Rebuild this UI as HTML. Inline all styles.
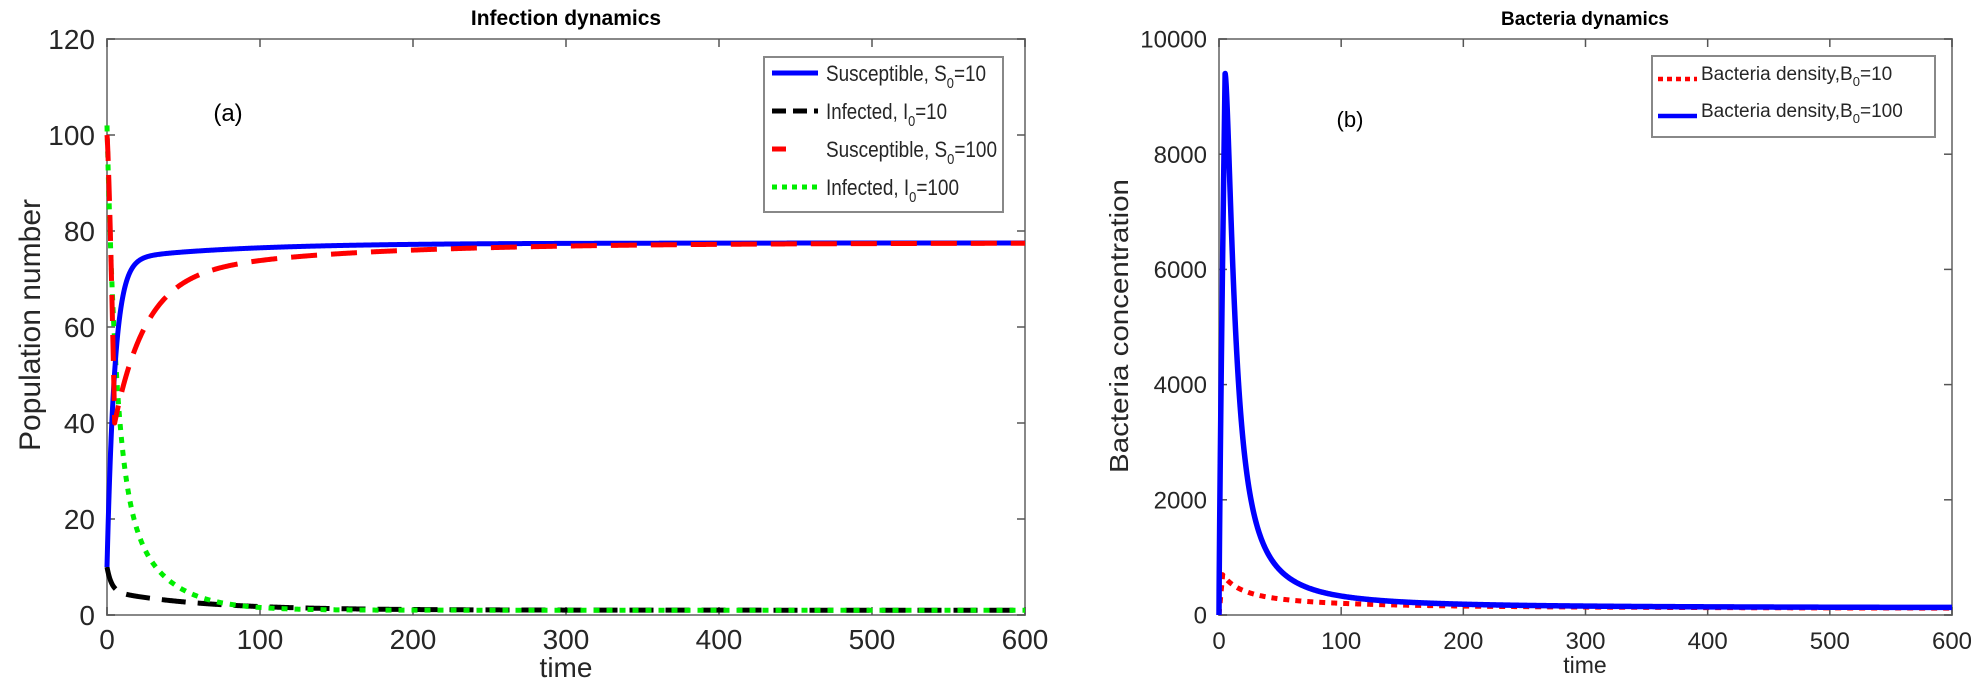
<!DOCTYPE html>
<html><head><meta charset="utf-8"><style>
html,body{margin:0;padding:0;background:#fff;width:1974px;height:692px;overflow:hidden}
text{font-family:"Liberation Sans",Arial,sans-serif}
</style></head><body>
<svg id="s" width="1974" height="692" xmlns="http://www.w3.org/2000/svg"></svg>
<script>
const svg=document.getElementById('s');
let h='';
function add(x){h+=x;}
const L={x0:107,x1:1025,y0:615,y1:39,ymax:120,xmax:600};
const R={x0:1219,x1:1952,y0:615,y1:39,ymax:10000,xmax:600};
function X(A,t){return A.x0+t/A.xmax*(A.x1-A.x0);}
function Y(A,v){return A.y0-v/A.ymax*(A.y0-A.y1);}
function axes(A,yt,fs,fsx){
  add(`<rect x="${A.x0}" y="${A.y1}" width="${A.x1-A.x0}" height="${A.y0-A.y1}" fill="none" stroke="#888" stroke-width="2"/>`);
  for(let t=0;t<=600;t+=100){const x=X(A,t);
    add(`<line x1="${x}" y1="${A.y0}" x2="${x}" y2="${A.y0-8}" stroke="#555" stroke-width="1.5"/><line x1="${x}" y1="${A.y1}" x2="${x}" y2="${A.y1+8}" stroke="#555" stroke-width="1.5"/>`);
    add(`<text x="${x}" y="${A.y0+34}" font-size="${fsx}" text-anchor="middle" fill="#262626">${t}</text>`);}
  for(const v of yt){const y=Y(A,v);
    add(`<line x1="${A.x0}" y1="${y}" x2="${A.x0+8}" y2="${y}" stroke="#555" stroke-width="1.5"/><line x1="${A.x1}" y1="${y}" x2="${A.x1-8}" y2="${y}" stroke="#555" stroke-width="1.5"/>`);
    add(`<text x="${A.x0-12}" y="${y+fs*0.36}" font-size="${fs}" text-anchor="end" fill="#262626">${v}</text>`);}
}
function path(A,f,col,w,dash){
  let d='';
  for(let i=0;i<=1200;i++){const t=i<200?i*0.1:20+(i-200)*0.58;
    d+=(i?'L':'M')+X(A,t).toFixed(2)+' '+Y(A,f(t)).toFixed(2);}
  add(`<path d="${d}" fill="none" stroke="${col}" stroke-width="${w}" ${dash?`stroke-dasharray="${dash}"`:''} stroke-linejoin="round"/>`);
}
axes(L,[0,20,40,60,80,100,120],28,28);
axes(R,[0,2000,4000,6000,8000,10000],24,24);
path(L,t=>1+5*Math.exp(-t/3)+4*Math.exp(-t/60),'#000',5,'24 12');
path(L,t=>1+70*Math.exp(-t/6)+31*Math.exp(-t/25),'#00ee00',5,'6 7');
path(L,t=>10+64*(1-Math.exp(-t/5))+3.5*(1-Math.exp(-t/80)),'#0000ff',5,null);
path(L,t=>t<5?100-60*Math.pow(t/5,1.3):77.5-30*Math.exp(-(t-5)/20)-7.5*Math.exp(-(t-5)/120),'#ff0000',5,'26 14');
path(R,t=>t<3?700*t/3:100+600/(1+(t-3)/20),'#ff0000',5,'6 6');
path(R,t=>t<5?9400*Math.pow(t/5,0.8):120+9280/(1+Math.pow((t-5)/9,1.6)),'#0000ff',5.5,null);
add(`<text x="566" y="25" font-size="21" font-weight="bold" text-anchor="middle">Infection dynamics</text>`);
add(`<text x="1585" y="25" font-size="19" font-weight="bold" text-anchor="middle">Bacteria dynamics</text>`);
add(`<text x="566" y="677" font-size="28" text-anchor="middle" fill="#262626">time</text>`);
add(`<text x="1585" y="673" font-size="23" text-anchor="middle" fill="#262626">time</text>`);
add(`<text transform="translate(40,325) rotate(-90)" font-size="30" text-anchor="middle" textLength="252" lengthAdjust="spacingAndGlyphs" fill="#262626">Population number</text>`);
add(`<text transform="translate(1128,326) rotate(-90)" font-size="26" text-anchor="middle" textLength="294" lengthAdjust="spacingAndGlyphs" fill="#262626">Bacteria concentration</text>`);
add(`<text x="228" y="121" font-size="24" text-anchor="middle">(a)</text>`);
add(`<text x="1350" y="127" font-size="22" text-anchor="middle">(b)</text>`);
add(`<rect x="764" y="57" width="239" height="155" fill="#fff" stroke="#888" stroke-width="2"/>`);
const le=[['#0000ff',null,'Susceptible, S','10',160],['#000','14 7','Infected, I','10',121],['#ff0000','14 40','Susceptible, S','100',171],['#00ee00','5 5','Infected, I','100',133]];
le.forEach((e,i)=>{const y=73+i*38;
  add(`<line x1="772" y1="${y}" x2="818" y2="${y}" stroke="${e[0]}" stroke-width="5" ${e[1]?`stroke-dasharray="${e[1]}"`:''}/>`);
  add(`<text x="826" y="${y+8}" font-size="22" fill="#262626" textLength="${e[4]}" lengthAdjust="spacingAndGlyphs">${e[2]}<tspan font-size="15" dy="7">0</tspan><tspan dy="-7">=${e[3]}</tspan></text>`);});
add(`<rect x="1652" y="56" width="283" height="81" fill="#fff" stroke="#888" stroke-width="2"/>`);
[['#ff0000','5 4','10'],['#0000ff',null,'100']].forEach((e,i)=>{const y=79+i*37;
  add(`<line x1="1658" y1="${y}" x2="1697" y2="${y}" stroke="${e[0]}" stroke-width="4.5" ${e[1]?`stroke-dasharray="${e[1]}"`:''}/>`);
  add(`<text x="1701" y="${y+1}" font-size="19" fill="#262626">Bacteria density,B<tspan font-size="13" dy="6">0</tspan><tspan dy="-6">=${e[2]}</tspan></text>`);});
svg.innerHTML=h;
</script>
</body></html>
